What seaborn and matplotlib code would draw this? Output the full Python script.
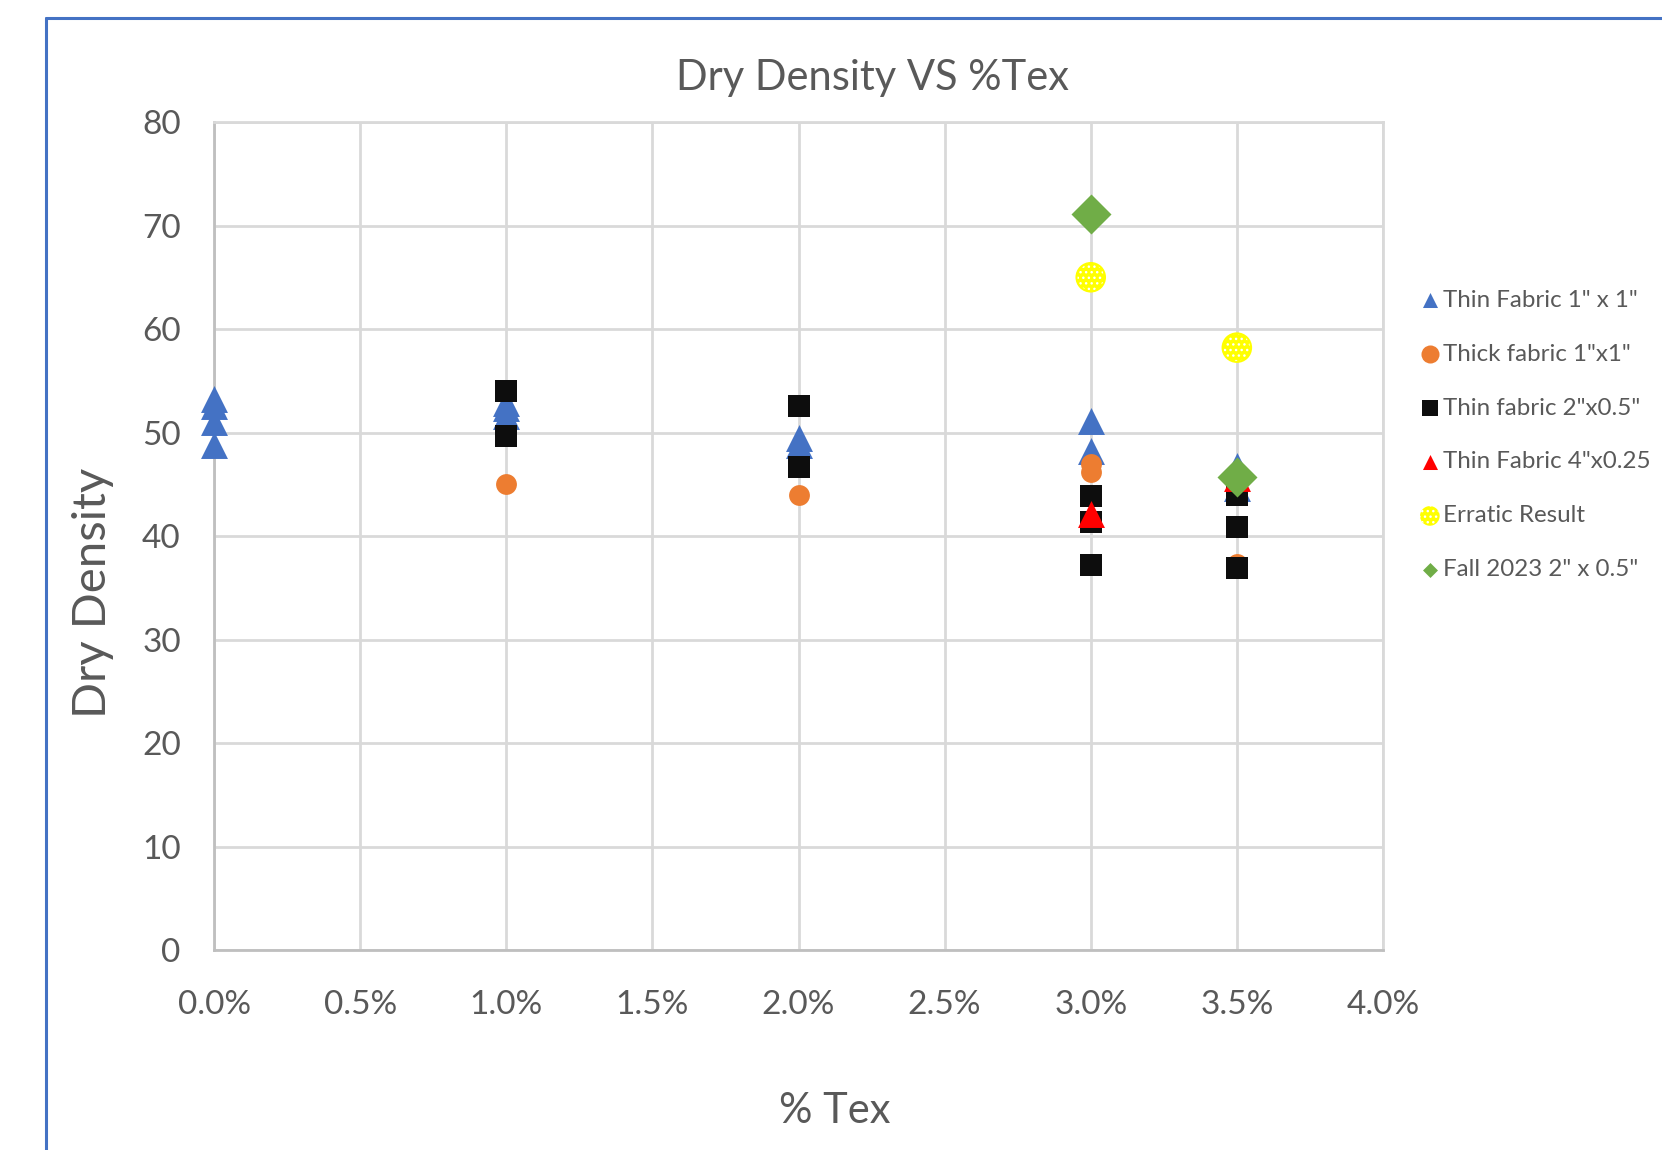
import matplotlib
matplotlib.use("Agg")
import matplotlib.pyplot as plt
import matplotlib.ticker as mticker
from matplotlib.legend_handler import HandlerPathCollection
from matplotlib.lines import Line2D
import seaborn as sns
import pandas as pd

# Fabric content (fraction of soil mass) and measured dry density per test series
thin_1x1_x = [0.0, 0.0, 0.0, 0.0, 0.01, 0.01, 0.01, 0.02, 0.02, 0.03, 0.03, 0.035, 0.035]
thin_1x1_y = [53.2, 52.6, 51.0, 48.8, 52.9, 52.4, 51.6, 49.5, 48.8, 51.1, 48.2, 46.8, 44.6]

thick_1x1_x = [0.01, 0.02, 0.03, 0.03, 0.035]
thick_1x1_y = [45.0, 44.0, 47.0, 46.2, 37.3]

thin_2x05_x = [0.01, 0.01, 0.02, 0.02, 0.03, 0.03, 0.03, 0.035, 0.035, 0.035]
thin_2x05_y = [54.0, 49.7, 52.6, 46.7, 43.9, 41.4, 37.2, 44.0, 40.9, 36.9]

thin_4x025_x = [0.03, 0.035]
thin_4x025_y = [42.1, 45.6]

erratic_x = [0.03, 0.035]
erratic_y = [65.0, 58.2]

fall2023_x = [0.03, 0.035]
fall2023_y = [71.1, 45.7]

series_labels = ['Thin Fabric 1" x 1"', 'Thick fabric 1"x1"', 'Thin fabric 2"x0.5"',
                 'Thin Fabric 4"x0.25', 'Erratic Result', 'Fall 2023 2" x 0.5"']

x_ticks = [0.0, 0.005, 0.01, 0.015, 0.02, 0.025, 0.03, 0.035, 0.04]
y_ticks = [0, 10, 20, 30, 40, 50, 60, 70, 80]

sns.set_theme(style="white")
plt.rcParams['font.family'] = ['Lato', 'DejaVu Sans']

TEXT = "#595959"
GRID = "#d9d9d9"

fig = plt.figure(figsize=(16.62, 11.5), dpi=100)
ax = fig.add_axes([0.1288, 0.1739, 0.8321 - 0.1288, 0.8939 - 0.1739])

def frame(x, y):
    return pd.DataFrame({"tex": x, "density": y})

handles = []

def add_series(x, y, label, marker, color, size, **kw):
    sns.scatterplot(data=frame(x, y), x="tex", y="density", ax=ax, marker=marker,
                    color=color, s=size, linewidth=0, label=label, legend=False,
                    zorder=3, clip_on=False, **kw)
    handles.append(ax.collections[-1])

add_series(thin_1x1_x, thin_1x1_y, series_labels[0], "^", "#4472C4", 376)
add_series(thick_1x1_x, thick_1x1_y, series_labels[1], "o", "#ED7D31", 225)
add_series(thin_2x05_x, thin_2x05_y, series_labels[2], "s", "#0d0d0d", 243)
add_series(thin_4x025_x, thin_4x025_y, series_labels[3], "^", "#FF0000", 376)

# Erratic results: yellow disc with a white dotted fill and a yellow rim
sns.scatterplot(data=frame(erratic_x, erratic_y), x="tex", y="density", ax=ax,
                marker="o", s=420, facecolor="#FFFF00", edgecolor="white",
                linewidth=0, hatch="...", legend=False, zorder=3, clip_on=False)
handles.append(ax.collections[-1])
handles[-1].set_label(series_labels[4])
sns.scatterplot(data=frame(erratic_x, erratic_y), x="tex", y="density", ax=ax,
                marker="o", s=420, facecolor="none", edgecolor="#FFFF00",
                linewidth=1.5, legend=False, zorder=3, clip_on=False)

add_series(fall2023_x, fall2023_y, series_labels[5], "D", "#70AD47", 415)

ax.set_xlim(0, 0.04)
ax.set_ylim(0, 80)
ax.set_xticks(x_ticks)
ax.set_yticks(y_ticks)
ax.xaxis.set_major_formatter(mticker.PercentFormatter(xmax=1, decimals=1))
ax.grid(True, color=GRID, linewidth=2)
ax.set_axisbelow(True)
for side in ["top", "right"]:
    ax.spines[side].set_color(GRID)
    ax.spines[side].set_linewidth(2)
for side in ["left", "bottom"]:
    ax.spines[side].set_color("#bfbfbf")
    ax.spines[side].set_linewidth(2)
ax.tick_params(axis="both", length=0, labelsize=24, labelcolor=TEXT)
ax.tick_params(axis="x", pad=29)
ax.tick_params(axis="y", pad=24)
ax.set_xlabel("")
ax.set_ylabel("")

fig.text(0.5247, 0.932, "Dry Density VS %Tex", ha="center", va="center",
         fontsize=30, color=TEXT)
fig.text(0.502, 0.034, "% Tex", ha="center", va="center", fontsize=30, color=TEXT)
fig.text(0.056, 0.4847, "Dry Density", ha="center", va="center", rotation=90,
         fontsize=34, color=TEXT)

legend_sizes = [117, 169, 132, 117, 200, 58]
hmap = {h: HandlerPathCollection(sizes=[sz]) for h, sz in zip(handles, legend_sizes)}
leg = fig.legend(handles=handles, labels=series_labels, handler_map=hmap,
                 loc="upper left", bbox_to_anchor=(0.8545, 0.748), frameon=False,
                 fontsize=17.4, labelcolor=TEXT, handlelength=0.8, handletextpad=0.15,
                 labelspacing=1.36, borderpad=0, borderaxespad=0)

# Outer chart-area border (left and top edges)
fig.add_artist(Line2D([0.0277, 0.0277], [0.0, 0.9843], transform=fig.transFigure,
                      color="#4472C4", linewidth=2.2))
fig.add_artist(Line2D([0.0277, 1.0], [0.9843, 0.9843], transform=fig.transFigure,
                      color="#4472C4", linewidth=2.2))

fig.savefig("out.png", dpi=100, facecolor="white")
